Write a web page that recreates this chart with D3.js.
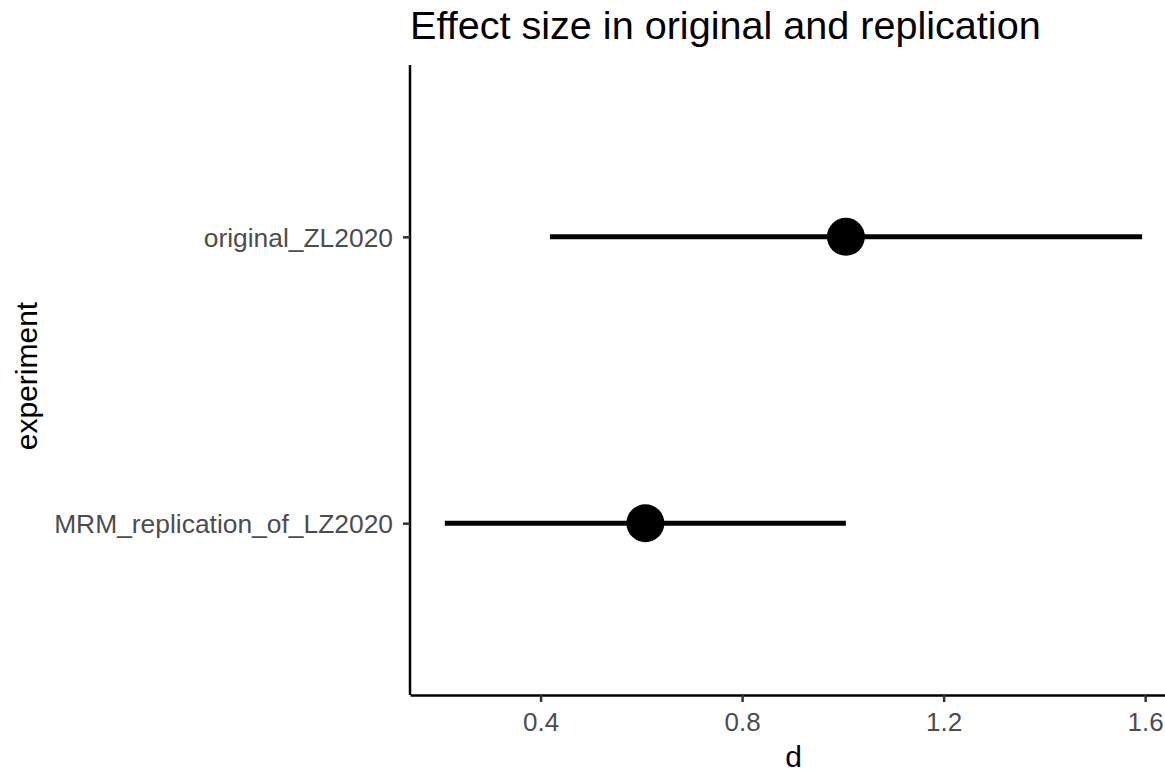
<!DOCTYPE html>
<html><head><meta charset="utf-8">
<script src="https://cdn.jsdelivr.net/npm/d3@7"></script>
<style>body{margin:0;background:#fff}svg{display:block}text{font-family:"Liberation Sans",Arial,sans-serif}</style>
</head><body><svg id="c" width="1165" height="772"></svg>
<script>
const experiments = ["original_ZL2020", "MRM_replication_of_LZ2020"];
const estimates = [1.006, 0.608];
const lower = [0.4185, 0.210];
const upper = [1.594, 1.006];
const xTicks = [0.4, 0.8, 1.2, 1.6];
const titleText = "Effect size in original and replication";
const xLabel = "d";
const yLabel = "experiment";

const svg = d3.select("#c");
const pLeft = 410, pRight = 1177, pTop = 65, pBottom = 695;
const lo = d3.min(lower), hi = d3.max(upper), pad = (hi - lo) * 0.05;
const x = d3.scaleLinear().domain([lo - pad, hi + pad]).range([pLeft, pRight]);
const y = d3.scalePoint().domain(experiments.slice().reverse()).range([pBottom, pTop]).padding(0.6);

const data = experiments.map((e, i) => ({e, est: estimates[i], lo: lower[i], hi: upper[i]}));

// error bars
svg.append("g").selectAll("line").data(data).join("line")
  .attr("x1", d => x(d.lo)).attr("x2", d => x(d.hi))
  .attr("y1", d => y(d.e)).attr("y2", d => y(d.e))
  .attr("stroke", "#000").attr("stroke-width", 5);
svg.append("g").selectAll("circle").data(data).join("circle")
  .attr("cx", d => x(d.est)).attr("cy", d => y(d.e)).attr("r", 19).attr("fill", "#000");

// x axis
const xa = svg.append("g").attr("transform", `translate(0,${pBottom})`)
  .call(d3.axisBottom(x).tickValues(xTicks).tickSize(7).tickSizeOuter(0).tickFormat(d3.format(".1f")));
xa.select(".domain").attr("stroke", "#000").attr("stroke-width", 2.5);
xa.selectAll(".tick line").attr("stroke", "#333").attr("stroke-width", 2.5);
xa.selectAll(".tick text").attr("font-size", 26).attr("fill", "#4d4d4d").attr("dy", 0).attr("y", 36);

// y axis
const ya = svg.append("g").attr("transform", `translate(${pLeft},0)`)
  .call(d3.axisLeft(y).tickSize(7).tickSizeOuter(0));
ya.select(".domain").attr("stroke", "#000").attr("stroke-width", 2.5).attr("d", `M0,${pTop}V${pBottom}`);
ya.selectAll(".tick line").attr("stroke", "#333").attr("stroke-width", 2.5);
ya.selectAll(".tick text").attr("font-size", 26.4).attr("fill", "#4d4d4d").attr("dy", "0.35em").attr("x", -17);

// titles
svg.append("text").attr("x", 410).attr("y", 39)
  .attr("font-size", 39.6).attr("fill", "#000").text(titleText);
svg.append("text").attr("x", (pLeft + pRight) / 2 - 0).attr("y", 767)
  .attr("text-anchor", "middle").attr("font-size", 30).attr("fill", "#000").text(xLabel);
svg.append("text").attr("transform", `translate(37,${(pTop + pBottom) / 2 - 4}) rotate(-90)`)
  .attr("text-anchor", "middle").attr("font-size", 30).attr("fill", "#000").text(yLabel);
</script></body></html>
